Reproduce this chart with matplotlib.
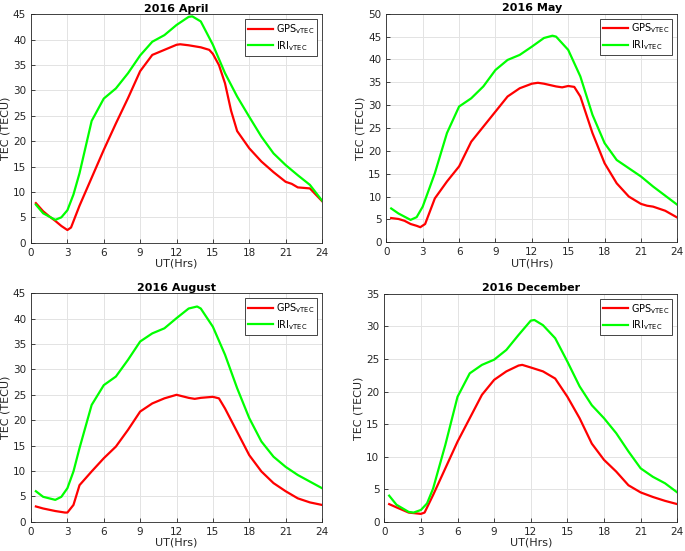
import matplotlib
matplotlib.use("Agg")
from matplotlib import pyplot as plt

# hours (UT) for each series
apr_x = [0.4, 1, 1.5, 2, 2.5, 3, 3.3, 4, 5, 6, 7, 8, 9, 10, 11, 12, 12.3, 13, 14, 14.7, 15, 15.5, 16, 16.5, 17, 18, 19, 20, 21, 21.5, 22, 23, 24]
apr_gps = [7.8, 6.2, 5.2, 4.3, 3.3, 2.5, 3.0, 7.3, 12.8, 18.3, 23.5, 28.5, 33.8, 37.0, 38.0, 39.0, 39.1, 38.9, 38.5, 38.0, 37.2, 35.0, 31.4, 26.0, 22.0, 18.6, 16.0, 13.9, 12.0, 11.6, 10.9, 10.7, 8.2]
apr_iri_x = [0.4, 1, 2, 2.5, 3, 3.5, 4, 5, 6, 7, 8, 9, 10, 11, 12, 13, 13.3, 14, 15, 16, 17, 18, 19, 20, 21, 22, 23, 24]
apr_iri = [7.5, 5.8, 4.5, 5.0, 6.4, 9.5, 13.7, 24.0, 28.4, 30.4, 33.4, 36.9, 39.6, 40.9, 42.9, 44.5, 44.6, 43.6, 39.0, 33.4, 28.8, 24.8, 20.9, 17.6, 15.3, 13.3, 11.4, 8.3]

may_x = [0.4, 1, 1.5, 2, 2.5, 2.8, 3.2, 4, 5, 6, 7, 8, 9, 10, 11, 12, 12.5, 13, 14, 14.5, 15, 15.5, 16, 17, 18, 19, 20, 21, 21.5, 22, 23, 24]
may_gps = [5.3, 5.1, 4.7, 4.0, 3.6, 3.3, 4.0, 9.6, 13.3, 16.6, 22.0, 25.3, 28.6, 31.9, 33.7, 34.7, 34.9, 34.7, 34.1, 33.9, 34.2, 34.0, 31.9, 23.9, 17.3, 12.9, 10.0, 8.4, 8.0, 7.8, 6.9, 5.4]
may_iri_x = [0.4, 1, 2, 2.5, 3, 4, 5, 6, 7, 8, 9, 10, 11, 12, 13, 13.7, 14, 15, 16, 17, 18, 19, 20, 21, 22, 23, 24]
may_iri = [7.4, 6.3, 4.9, 5.5, 7.8, 15.1, 23.9, 29.7, 31.5, 34.1, 37.7, 39.9, 41.0, 42.8, 44.7, 45.2, 45.0, 42.1, 36.3, 27.9, 21.7, 18.0, 16.2, 14.4, 12.2, 10.2, 8.2]

aug_x = [0.4, 1, 2, 2.8, 3, 3.5, 4, 5, 6, 7, 8, 9, 10, 11, 12, 13, 13.5, 14, 15, 15.5, 16, 17, 18, 19, 20, 21, 22, 23, 24]
aug_gps = [3.0, 2.6, 2.1, 1.8, 1.8, 3.3, 7.2, 9.9, 12.5, 14.8, 18.1, 21.7, 23.3, 24.3, 25.0, 24.4, 24.2, 24.4, 24.6, 24.3, 22.3, 17.7, 13.1, 9.9, 7.6, 6.0, 4.6, 3.8, 3.3]
aug_iri_x = [0.4, 1, 2, 2.5, 3, 3.5, 4, 5, 6, 7, 8, 9, 10, 11, 12, 13, 13.7, 14, 15, 16, 17, 18, 19, 20, 21, 22, 23, 24]
aug_iri = [6.0, 4.9, 4.3, 4.9, 6.6, 9.9, 14.5, 23.0, 26.9, 28.6, 31.9, 35.5, 37.1, 38.1, 40.1, 42.0, 42.4, 42.0, 38.4, 32.9, 26.3, 20.4, 15.8, 12.8, 10.8, 9.2, 7.9, 6.6]

dec_x = [0.4, 1, 2, 2.5, 3, 3.3, 4, 5, 6, 7, 8, 9, 10, 11, 11.3, 12, 13, 14, 15, 16, 17, 18, 19, 20, 21, 22, 23, 24]
dec_gps = [2.7, 2.2, 1.4, 1.3, 1.2, 1.4, 4.1, 8.2, 12.3, 15.9, 19.5, 21.8, 23.1, 24.0, 24.1, 23.7, 23.1, 22.0, 19.2, 15.9, 12.0, 9.5, 7.7, 5.6, 4.5, 3.8, 3.2, 2.7]
dec_iri_x = [0.4, 1, 2, 2.4, 3, 3.5, 4, 5, 6, 7, 8, 9, 10, 11, 12, 12.3, 13, 14, 15, 16, 17, 18, 19, 20, 21, 22, 23, 24]
dec_iri = [4.0, 2.6, 1.5, 1.4, 1.8, 2.8, 5.1, 11.8, 19.2, 22.8, 24.1, 24.9, 26.4, 28.7, 30.9, 31.0, 30.2, 28.2, 24.6, 20.8, 17.9, 15.9, 13.6, 10.8, 8.2, 6.9, 5.9, 4.5]

panels = [
    ("2016 April", apr_x, apr_gps, apr_iri_x, apr_iri, 45, [0.0453, 0.5595, 0.4248, 0.4145]),
    ("2016 May", may_x, may_gps, may_iri_x, may_iri, 50, [0.564, 0.5603, 0.4248, 0.4147]),
    ("2016 August", aug_x, aug_gps, aug_iri_x, aug_iri, 45, [0.0453, 0.0532, 0.4248, 0.4145]),
    ("2016 December", dec_x, dec_gps, dec_iri_x, dec_iri, 35, [0.561, 0.0532, 0.4277, 0.4133]),
]

fig = plt.figure(figsize=(6.85, 5.51), dpi=100)

for title, gx, gps, ix, iri, ymax, pos in panels:
    ax = fig.add_axes(pos)
    ax.plot(gx, gps, color=(1, 0, 0), lw=1.6, label=r"GPS$_{\rm vTEC}$")
    ax.plot(ix, iri, color=(0, 1, 0), lw=1.6, label=r"IRI$_{\rm vTEC}$")
    ax.set_xlim(0, 24)
    ax.set_ylim(0, ymax)
    ax.set_xticks(range(0, 25, 3))
    ax.set_yticks(range(0, ymax + 1, 5))
    ax.grid(True, color="#e3e3e3", lw=0.7)
    ax.set_axisbelow(True)
    ax.tick_params(direction="in", labelsize=7.5, colors="#262626", length=3, width=0.6)
    for s in ax.spines.values():
        s.set_color("#262626")
        s.set_linewidth(0.6)
    ax.set_title(title, fontsize=8, fontweight="bold", pad=2)
    ax.set_xlabel("UT(Hrs)", fontsize=8, labelpad=1, color="#262626")
    ax.set_ylabel("TEC (TECU)", fontsize=8, labelpad=2, color="#262626")
    leg = ax.legend(loc="upper right", fontsize=7, fancybox=False, framealpha=1,
                    handlelength=2.6, borderaxespad=0.5, labelspacing=0.3,
                    handletextpad=0.3, borderpad=0.3)
    leg.get_frame().set_edgecolor("#262626")
    leg.get_frame().set_linewidth(0.6)

fig.savefig("out.png", dpi=100)
